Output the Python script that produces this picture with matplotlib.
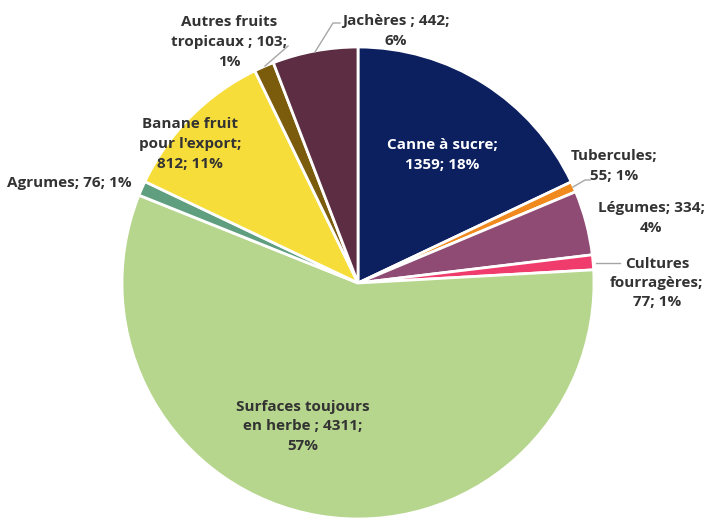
import matplotlib
matplotlib.use("Agg")
import matplotlib.pyplot as plt

# Surfaces agricoles (ha) par type de culture
categories = ["Canne à sucre", "Tubercules", "Légumes", "Cultures\nfourragères",
              "Surfaces toujours\nen herbe", "Agrumes", "Banane fruit\npour l'export",
              "Autres fruits\ntropicaux", "Jachères"]
values = [1359, 55, 334, 77, 4311, 76, 812, 103, 442]
labels = ["Canne à sucre;\n1359; 18%",
          "Tubercules;\n55; 1%",
          "Légumes; 334;\n4%",
          "Cultures\nfourragères;\n77; 1%",
          "Surfaces toujours\nen herbe ; 4311;\n57%",
          "Agrumes; 76; 1%",
          "Banane fruit\npour l'export;\n812; 11%",
          "Autres fruits\ntropicaux ; 103;\n1%",
          "Jachères ; 442;\n6%"]
colors = ["#0c1f5f", "#f0891e", "#8f4b74", "#f03c6c", "#b6d68d",
          "#5f9f80", "#f6dd3a", "#7b5b0c", "#5d2d43"]

W, H = 709, 519
fig = plt.figure(figsize=(W / 100, H / 100), dpi=100)
ax = fig.add_axes([0, 0, 1, 1])

cx, cy, r = 358, H - 283, 236
ax.pie(values, colors=colors, startangle=90, counterclock=False,
       center=(cx, cy), radius=r, frame=True,
       wedgeprops=dict(edgecolor="white", linewidth=2))
ax.set_xlim(0, W)
ax.set_ylim(0, H)
ax.set_aspect("equal")
ax.axis("off")

font = dict(family=["Open Sans", "DejaVu Sans"], fontweight="bold", fontsize=11,
            ha="center", va="center", linespacing=1.5)
text_color = "#333333"

# label centres, in pixels from top-left
label_pos = [(442, 155), (614, 166), (651, 218), (657, 283), (303, 426),
             (69, 183), (190, 144), (229, 42), (396, 31)]
for i, (lab, (x, y)) in enumerate(zip(labels, label_pos)):
    col = "white" if i == 0 else text_color
    ax.text(x, H - y, lab, color=col, **font)

# leader lines
leaders = [
    [(573, 187), (585, 180), (590, 180)],
    [(596, 263), (620, 263)],
    [(265, 66), (288, 46)],
    [(315, 52), (333, 23), (340, 23)],
]
for pts in leaders:
    xs = [p[0] for p in pts]
    ys = [H - p[1] for p in pts]
    ax.plot(xs, ys, color="#a6a6a6", lw=1)

fig.savefig("out.png", dpi=100)
